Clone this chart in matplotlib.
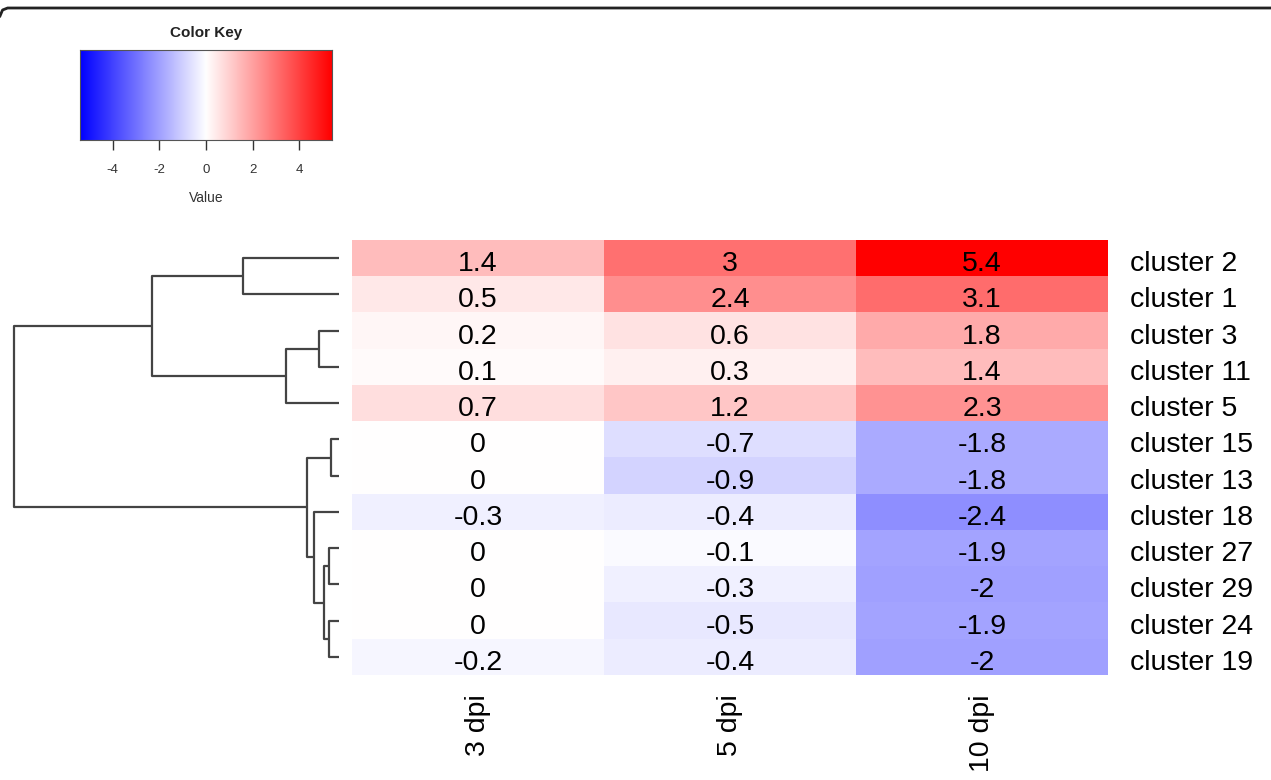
import numpy as np
import matplotlib
matplotlib.use("Agg")
import matplotlib.pyplot as plt
from matplotlib.colors import LinearSegmentedColormap
from matplotlib.lines import Line2D

plt.rcParams['font.family'] = ['Liberation Sans', 'DejaVu Sans']
plt.rcParams['axes.unicode_minus'] = False

############
# data
#########
rows = ["cluster 2", "cluster 1", "cluster 3", "cluster 11", "cluster 5",
        "cluster 15", "cluster 13", "cluster 18", "cluster 27", "cluster 29",
        "cluster 24", "cluster 19"]
cols = ["3 dpi", "5 dpi", "10 dpi"]
dpi3 = [1.4, 0.5, 0.2, 0.1, 0.7, 0, 0, -0.3, 0, 0, 0, -0.2]
dpi5 = [3, 2.4, 0.6, 0.3, 1.2, -0.7, -0.9, -0.4, -0.1, -0.3, -0.5, -0.4]
dpi10 = [5.4, 3.1, 1.8, 1.4, 2.3, -1.8, -1.8, -2.4, -1.9, -2, -1.9, -2]
key_ticks = [-4, -2, 0, 2, 4]

# row dendrogram: (left, right, height), leaves are 0..11, nodes 12..
merges = [
    (0, 1, 2.96),     # 12: 2 + 1
    (2, 3, 0.61),     # 13: 3 + 11
    (13, 4, 1.63),    # 14
    (12, 14, 5.76),   # 15
    (5, 6, 0.26),     # 16: 15 + 13
    (8, 9, 0.30),     # 17: 27 + 29
    (10, 11, 0.30),   # 18: 24 + 19
    (17, 18, 0.46),   # 19
    (7, 19, 0.77),    # 20
    (16, 20, 0.99),   # 21
    (15, 21, 10.0),   # 22 root
]

mat = np.column_stack([dpi3, dpi5, dpi10])
vmax = np.abs(mat).max()
cmap = LinearSegmentedColormap.from_list("bwr_r", ["#0000FF", "#FFFFFF", "#FF0000"])

W, H = 1271, 780
fig = plt.figure(figsize=(W / 100, H / 100), dpi=100)
FS = 20.5

def box(x0, y0, x1, y1):
    return [x0 / W, 1 - y1 / H, (x1 - x0) / W, (y1 - y0) / H]

#########
# heatmap
#########
ax = fig.add_axes(box(352, 240, 1108, 675))
ax.imshow(mat, cmap=cmap, vmin=-vmax, vmax=vmax, aspect='auto',
          interpolation='nearest', extent=(0, 3, len(rows), 0))
for i in range(len(rows)):
    for j in range(len(cols)):
        s = "%g" % mat[i, j]
        ax.text(j + 0.5, i + 0.58, s, ha='center', va='center_baseline',
                fontsize=FS, color='black')
ax.set_xlim(0, 3)
ax.set_ylim(len(rows), 0)
ax.set_xticks(np.arange(3) + 0.5)
ax.set_xticklabels(cols, rotation=90, fontsize=FS)
ax.set_yticks(np.arange(len(rows)) + 0.58)
ax.set_yticklabels(rows, fontsize=FS, va='center_baseline')
ax.yaxis.tick_right()
ax.tick_params(length=0)
ax.tick_params(axis='y', pad=16)
ax.tick_params(axis='x', pad=14)
for sp in ax.spines.values():
    sp.set_visible(False)

#########
# dendrogram
#########
dax = fig.add_axes(box(14, 240, 339, 675))
pos = {i: (i + 0.5, 0.0) for i in range(len(rows))}
for k, (a, b, h) in enumerate(merges):
    ya, ha_ = pos[a]
    yb, hb = pos[b]
    dax.plot([ha_, h, h, hb], [ya, ya, yb, yb], color='#444444', lw=1.6,
             solid_capstyle='butt', clip_on=False)
    pos[len(rows) + k] = ((ya + yb) / 2, h)
dax.set_xlim(merges[-1][2], 0)
dax.set_ylim(len(rows), 0)
dax.axis('off')

#########
# color key
#########
kax = fig.add_axes(box(80, 50, 332, 140))
grad = np.linspace(-vmax, vmax, 256).reshape(1, -1)
kax.imshow(grad, cmap=cmap, vmin=-vmax, vmax=vmax, aspect='auto',
           extent=(-vmax, vmax, 0, 1))
kax.set_yticks([])
kax.set_xticks(key_ticks)
kax.tick_params(axis='x', length=7, width=1, labelsize=9.5, colors='#333333', pad=10)
for sp in kax.spines.values():
    sp.set_color('#555555')
    sp.set_linewidth(0.8)
kax.set_xlabel("Value", fontsize=10, color='#333333', labelpad=11)
kax.set_title("Color Key", fontsize=11, fontweight='bold', color='#222222', pad=9)

#########
# border line at top
#########
fig.add_artist(Line2D([0, 0.002, 0.006, 1.0],
                      [1 - 16 / H, 1 - 10 / H, 1 - 8 / H, 1 - 8 / H],
                      color='#222222', lw=2, transform=fig.transFigure))

fig.savefig("out.png", dpi=100)
